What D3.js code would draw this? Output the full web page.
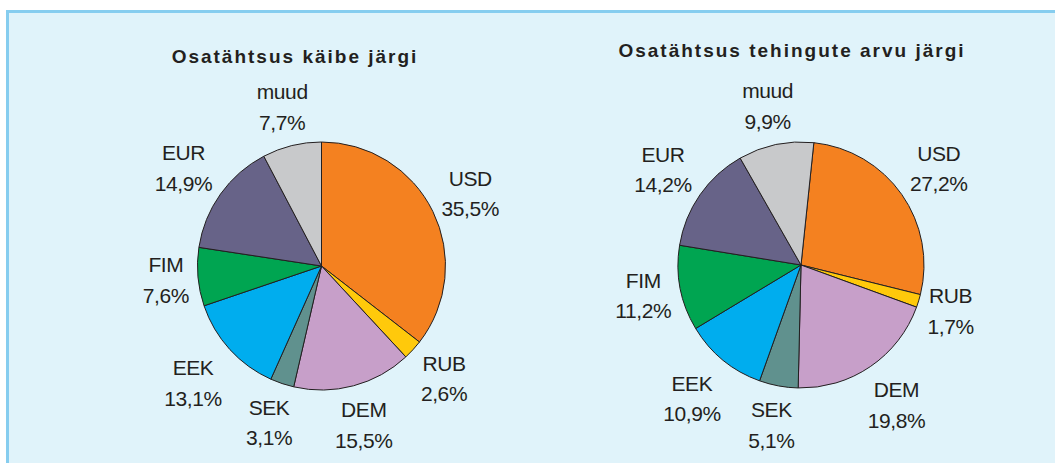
<!DOCTYPE html>
<html>
<head>
<meta charset="utf-8">
<script src="https://cdn.jsdelivr.net/npm/d3@7"></script>
<style>
  html, body { margin: 0; padding: 0; background: #ffffff; }
  svg { display: block; }
</style>
</head>
<body>
<svg id="chart" width="1055" height="463"></svg>
<script>
// ---- data ----
const categories = ["USD", "RUB", "DEM", "SEK", "EEK", "FIM", "EUR", "muud"];
const turnoverShare = [35.5, 2.6, 15.5, 3.1, 13.1, 7.6, 14.9, 7.7];
const dealCountShare = [27.2, 1.7, 19.8, 5.1, 10.9, 11.2, 14.2, 9.9];
const chartTitles = ["Osatähtsus käibe järgi", "Osatähtsus tehingute arvu järgi"];

// ---- styles ----
const sliceColors = ["#F48120", "#FFC90B", "#C79FC9", "#60918E", "#00ADEE", "#00A551", "#676388", "#C8C9CB"];
const color = d3.scaleOrdinal().domain(categories).range(sliceColors);
const textColor = "#231F20";
const fmt = v => d3.format(".1f")(v).replace(".", ",") + "%";

const svg = d3.select("#chart");
const W = 1055, H = 463;

// panel background and frame
svg.append("rect").attr("x", 6).attr("y", 10).attr("width", W - 6).attr("height", H - 10).attr("fill", "#E0F3FA");
svg.append("line").attr("x1", 7.5).attr("x2", 7.5).attr("y1", 10).attr("y2", H).attr("stroke", "#86CDEF").attr("stroke-width", 3);
svg.append("line").attr("x1", 6).attr("x2", W).attr("y1", 11.5).attr("y2", 11.5).attr("stroke", "#86CDEF").attr("stroke-width", 3);

const charts = [
  { values: turnoverShare, title: chartTitles[0], cx: 321.5, cy: 266, r: 124, rot: 0, tx: 295, ty: 63 },
  { values: dealCountShare, title: chartTitles[1], cx: 801, cy: 265, r: 123, rot: 6, tx: 792, ty: 57 }
];

charts.forEach(ch => {
  const g = svg.append("g").attr("transform", `translate(${ch.cx},${ch.cy})`);
  const a0 = ch.rot * Math.PI / 180;
  const pie = d3.pie().sort(null).value(d => d.v).startAngle(a0).endAngle(a0 + 2 * Math.PI);
  const arcs = pie(categories.map((c, i) => ({ c, v: ch.values[i] })));
  const arc = d3.arc().innerRadius(0).outerRadius(ch.r);

  g.selectAll("path.slice").data(arcs).join("path")
    .attr("class", "slice")
    .attr("d", arc)
    .attr("fill", d => color(d.data.c))
    .attr("stroke", "#231F20")
    .attr("stroke-width", 1)
    .attr("stroke-linejoin", "round");

  // labels: box placed just outside the rim along the mid angle
  const lab = g.selectAll("g.lab").data(arcs).join("g").attr("class", "lab");
  lab.each(function (d) {
    const sel = d3.select(this);
    const t1 = sel.append("text").text(d.data.c);
    const t2 = sel.append("text").text(fmt(d.data.v));
    sel.selectAll("text")
      .attr("font-family", "'Liberation Sans', Arial, sans-serif")
      .attr("font-size", 21)
      .attr("letter-spacing", -0.4)
      .attr("fill", textColor)
      .attr("text-anchor", "middle");
    const w = Math.max(t1.node().getComputedTextLength(), t2.node().getComputedTextLength()) + 10;
    const h = 70;
    const mid = (d.startAngle + d.endAngle) / 2;
    const ux = Math.sin(mid), uy = -Math.cos(mid);
    const ext = Math.min(Math.abs(ux) > 1e-6 ? (w / 2) / Math.abs(ux) : 1e9,
                         Math.abs(uy) > 1e-6 ? (h / 2) / Math.abs(uy) : 1e9);
    const dist = ch.r + 4 + ext;
    const x = ux * dist, y = uy * dist;
    t1.attr("x", x).attr("y", y - 15 + 7.5);
    t2.attr("x", x).attr("y", y + 15.5 + 7.5);
  });

  svg.append("text")
    .attr("x", ch.tx).attr("y", ch.ty)
    .attr("text-anchor", "middle")
    .attr("font-family", "'Liberation Sans', Arial, sans-serif")
    .attr("font-weight", "bold")
    .attr("font-size", 19)
    .attr("letter-spacing", 2)
    .attr("fill", textColor)
    .text(ch.title);
});
</script>
</body>
</html>
